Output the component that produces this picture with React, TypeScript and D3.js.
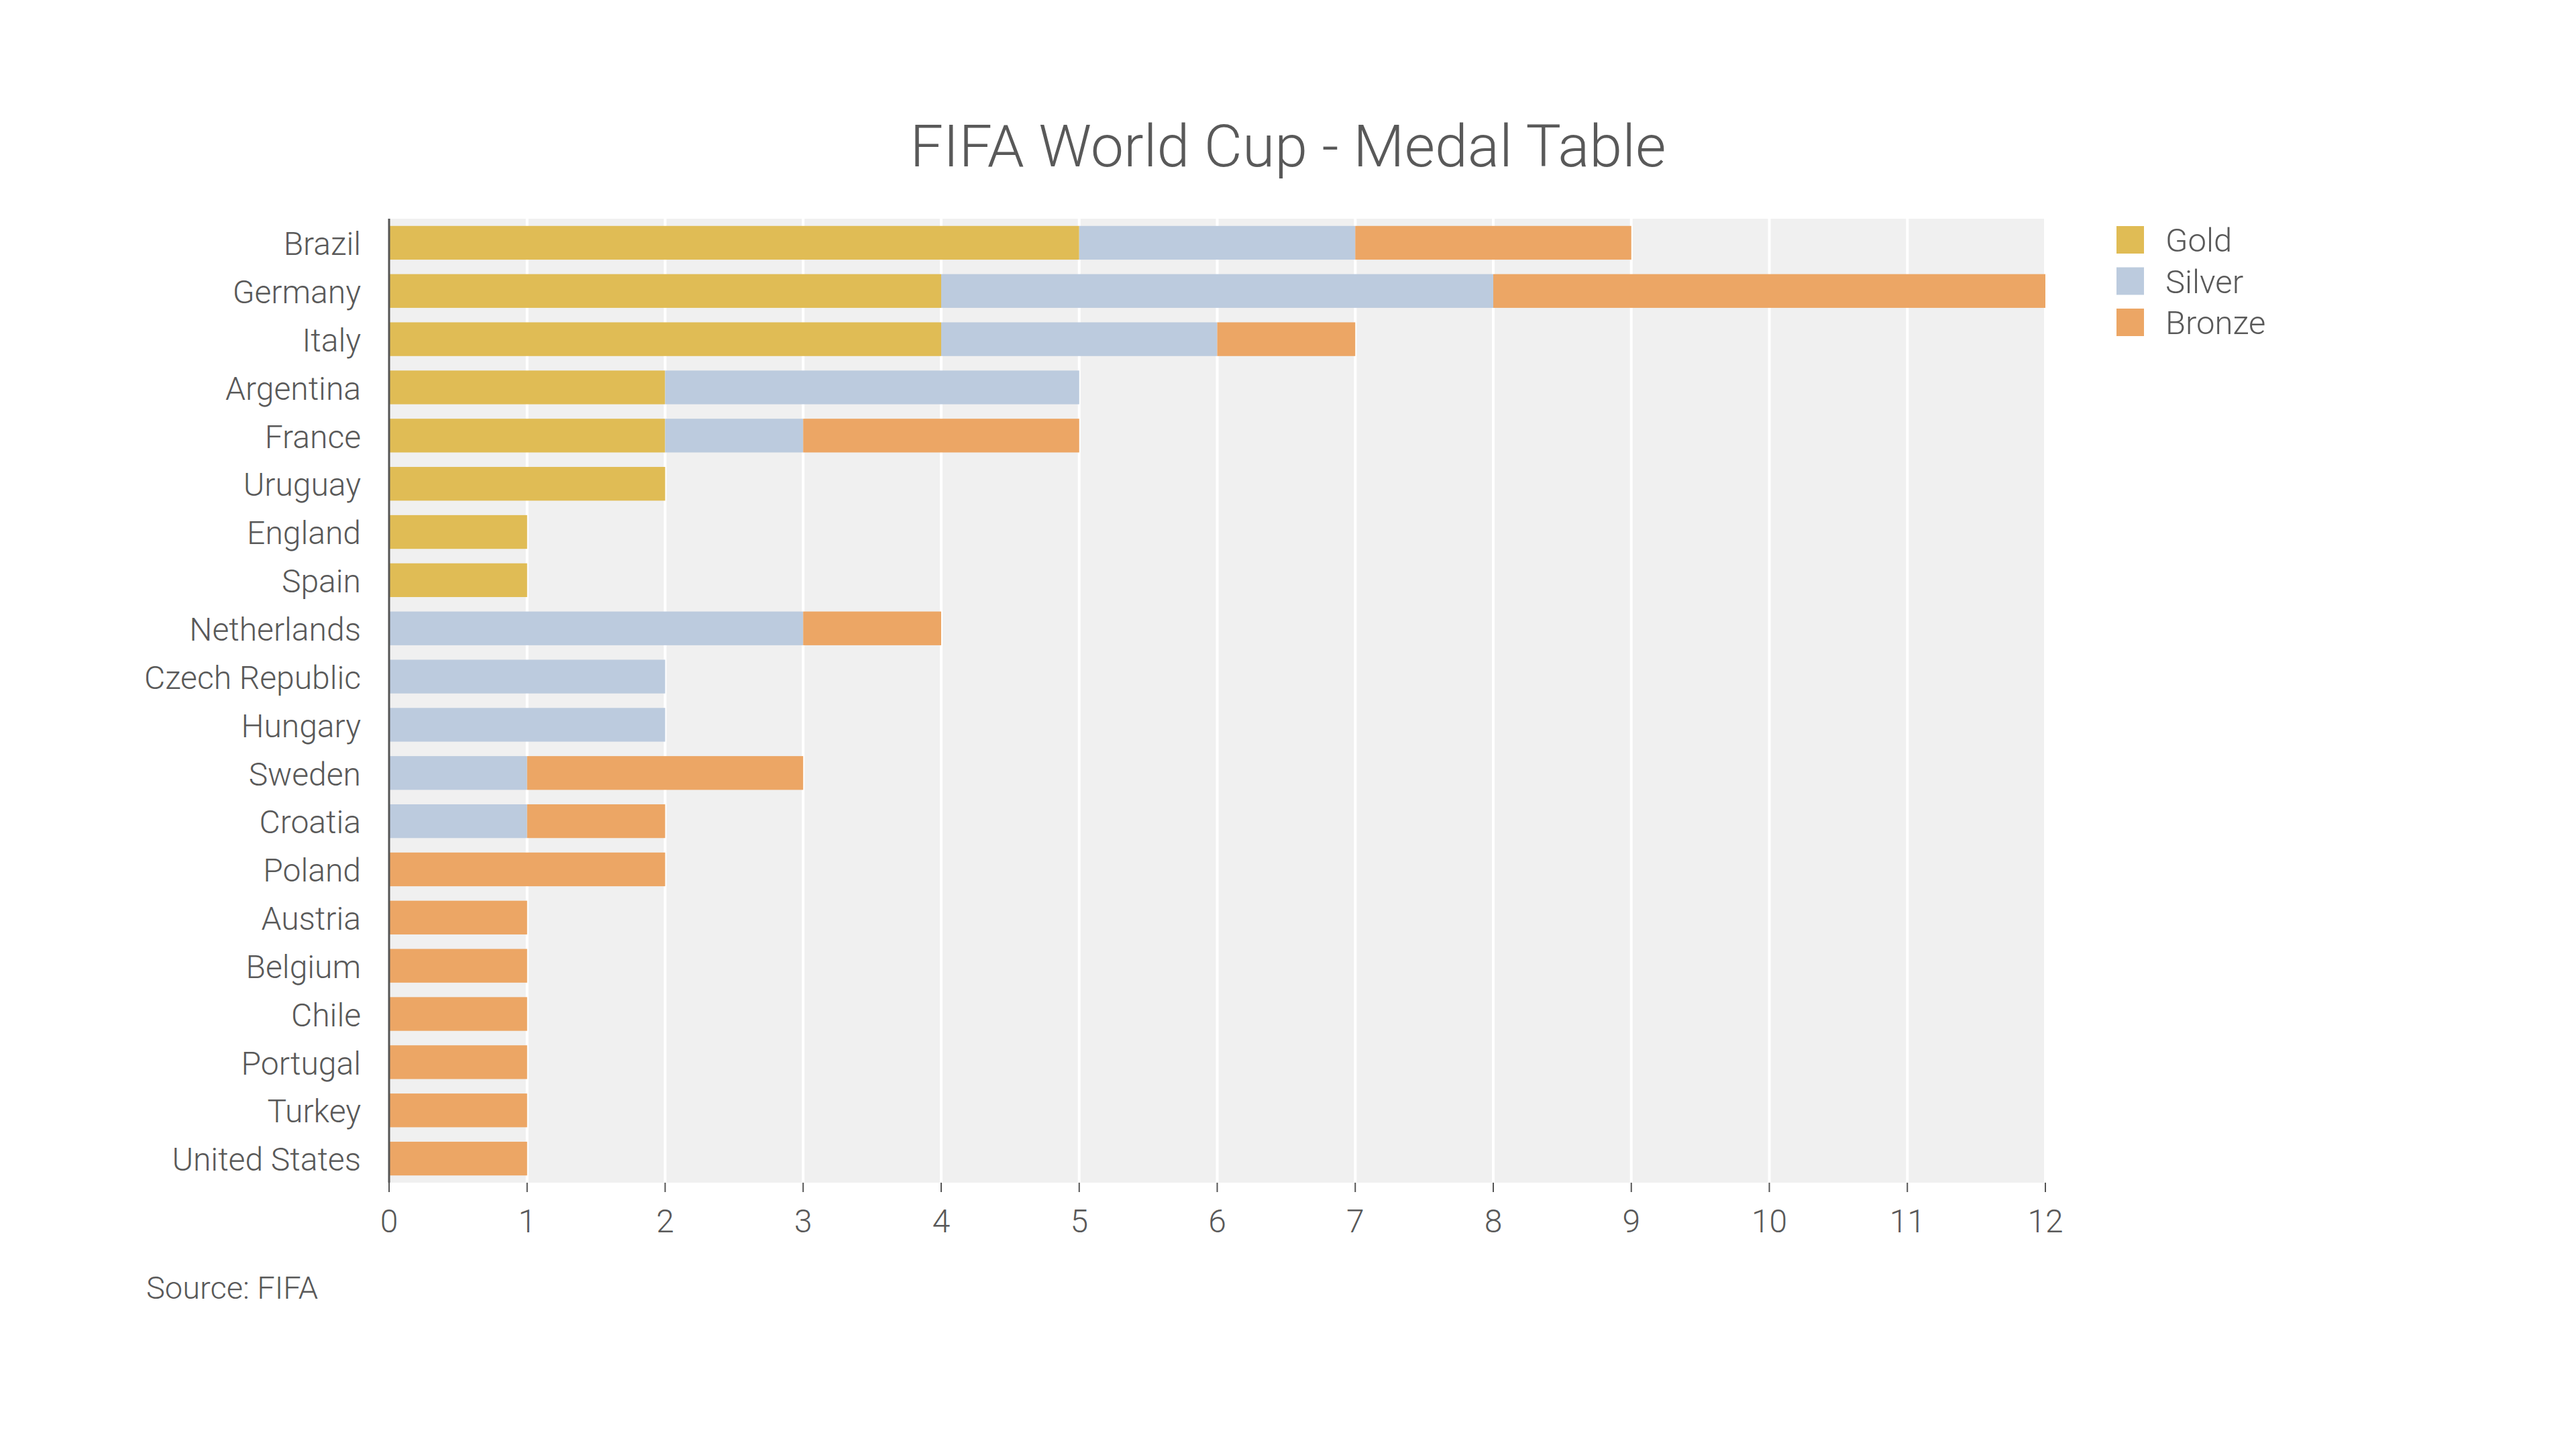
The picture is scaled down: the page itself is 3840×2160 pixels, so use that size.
import React from 'react';
import * as d3 from 'd3';

const countries = [
  'Brazil', 'Germany', 'Italy', 'Argentina', 'France', 'Uruguay', 'England', 'Spain',
  'Netherlands', 'Czech Republic', 'Hungary', 'Sweden', 'Croatia', 'Poland',
  'Austria', 'Belgium', 'Chile', 'Portugal', 'Turkey', 'United States',
];
const gold = [5, 4, 4, 2, 2, 2, 1, 1, 0, 0, 0, 0, 0, 0, 0, 0, 0, 0, 0, 0];
const silver = [2, 4, 2, 3, 1, 0, 0, 0, 3, 2, 2, 1, 1, 0, 0, 0, 0, 0, 0, 0];
const bronze = [2, 4, 1, 0, 2, 0, 0, 0, 1, 0, 0, 2, 1, 2, 1, 1, 1, 1, 1, 1];
const medalKeys = ['Gold', 'Silver', 'Bronze'];
const medalColors = ['#e0bc55', '#bccbde', '#eca665'];
const xTicks = [0, 1, 2, 3, 4, 5, 6, 7, 8, 9, 10, 11, 12];

const W = 3840;
const H = 2160;
const margin = { top: 326, right: 791, bottom: 397, left: 580 };
const font = 'Roboto, "Open Sans", sans-serif';
const textColor = '#595959';

const App: React.FC = () => {
  const innerW = W - margin.left - margin.right;
  const innerH = H - margin.top - margin.bottom;

  const rows = countries.map((c, i) => ({ country: c, Gold: gold[i], Silver: silver[i], Bronze: bronze[i] }));
  const stacked = d3.stack<any>().keys(medalKeys)(rows);

  const x = d3.scaleLinear().domain([0, 12]).range([0, innerW]);
  const y = d3.scaleBand().domain(countries).range([0, innerH]).paddingInner(0.3).paddingOuter(0.15);
  const color = d3.scaleOrdinal<string, string>().domain(medalKeys).range(medalColors);

  return (
    <svg width={W} height={H} style={{ position: 'absolute', left: 0, top: 0, background: '#fff' }} fontFamily={font}>
      <text x={W / 2} y={248} textAnchor="middle" fontSize={88} fontWeight={300} fill={textColor}>
        FIFA World Cup - Medal Table
      </text>

      <g transform={`translate(${margin.left},${margin.top})`}>
        <rect x={0} y={0} width={innerW} height={innerH} fill="#f0f0f0" />
        {xTicks.slice(1).map(t => (
          <line key={t} x1={x(t)} x2={x(t)} y1={0} y2={innerH} stroke="#fff" strokeWidth={4} />
        ))}

        {stacked.map(layer => (
          <g key={layer.key} fill={color(layer.key)}>
            {layer.map((d, i) => (d[1] - d[0] > 0 ? (
              <rect
                key={i}
                x={x(d[0])}
                y={y(countries[i])}
                width={x(d[1]) - x(d[0])}
                height={y.bandwidth()}
              />
            ) : null))}
          </g>
        ))}

        <line x1={0} x2={0} y1={0} y2={innerH} stroke="#555" strokeWidth={3} />

        {countries.map(c => (
          <text
            key={c}
            x={-42}
            y={(y(c) ?? 0) + y.bandwidth() / 2}
            dy="0.38em"
            textAnchor="end"
            fontSize={48}
            fontWeight={300}
            fill={textColor}
          >
            {c}
          </text>
        ))}

        <g transform={`translate(0,${innerH})`}>
          {xTicks.map(t => (
            <g key={t} transform={`translate(${x(t)},0)`}>
              <line y1={0} y2={14} stroke="#555" strokeWidth={2} />
              <text y={74} textAnchor="middle" fontSize={48} fontWeight={300} fill={textColor}>
                {t}
              </text>
            </g>
          ))}
        </g>
      </g>

      <g transform="translate(3155,337)">
        {medalKeys.map((k, i) => (
          <g key={k} transform={`translate(0,${i * 61.5})`}>
            <rect width={41} height={41} fill={color(k)} />
            <text x={73} y={38} fontSize={49} fontWeight={300} fill={textColor}>
              {k}
            </text>
          </g>
        ))}
      </g>

      <text x={218} y={1936} fontSize={47} fontWeight={300} fill={textColor}>
        Source: FIFA
      </text>
    </svg>
  );
};

export default App;
